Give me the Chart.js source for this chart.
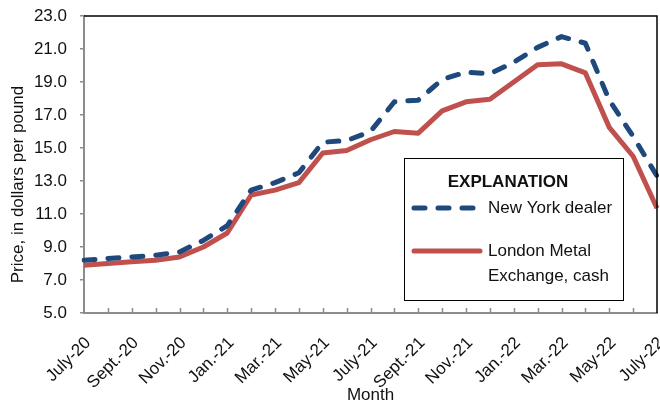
<!DOCTYPE html>
<html>
<head>
<meta charset="utf-8">
<script src="https://cdn.jsdelivr.net/npm/chart.js@4.4.0/dist/chart.umd.min.js"></script>
<style>
html, body { margin: 0; padding: 0; background: #fff; }
#wrap { width: 660px; height: 406px; }
</style>
</head>
<body>
<div id="wrap"><canvas id="myChart"></canvas></div>
<script>
let months = ['July-20', 'Aug.-20', 'Sept.-20', 'Oct.-20', 'Nov.-20', 'Dec.-20',
    'Jan.-21', 'Feb.-21', 'Mar.-21', 'Apr.-21', 'May-21', 'June-21',
    'July-21', 'Aug.-21', 'Sept.-21', 'Oct.-21', 'Nov.-21', 'Dec.-21',
    'Jan.-22', 'Feb.-22', 'Mar.-22', 'Apr.-22', 'May-22', 'June-22', 'July-22'];

// prices in dollars per pound
let newYork = [8.2, 8.3, 8.4, 8.5, 8.7, 9.4, 10.3, 12.45, 12.9, 13.5, 15.35, 15.45,
    16.0, 17.8, 17.9, 19.15, 19.6, 19.5, 20.2, 21.1, 21.75, 21.35, 17.9, 15.7, 13.3];
let london = [7.9, 8.0, 8.1, 8.2, 8.4, 9.0, 9.85, 12.15, 12.45, 12.9, 14.7, 14.85,
    15.5, 16.0, 15.9, 17.25, 17.8, 17.95, 19.0, 20.05, 20.1, 19.55, 16.25, 14.5, 11.35];

let yMin = 5, yMax = 23, yStep = 2;

let blue = '#1F497D';
let red = '#C0504D';
let axisGray = '#8c8c8c';
let font = "'Liberation Sans', Arial, sans-serif";

Chart.defaults.font.family = font;
Chart.defaults.color = '#111';

// black frame on top/right, inward month ticks, y title and the legend box
let extras = {
    id: 'extras',
    afterDraw(chart) {
        let ctx = chart.ctx;
        let a = chart.chartArea;
        let x = chart.scales.x;

        ctx.save();
        ctx.strokeStyle = '#000';
        ctx.lineWidth = 1.5;
        ctx.beginPath();
        ctx.moveTo(a.left, a.top);
        ctx.lineTo(a.right, a.top);
        ctx.lineTo(a.right, a.bottom);
        ctx.stroke();

        ctx.strokeStyle = axisGray;
        ctx.lineWidth = 1.5;
        ctx.beginPath();
        for (let i = 1; i < months.length - 1; i++) {
            let px = Math.round(x.getPixelForValue(i)) + 0.5;
            ctx.moveTo(px, a.bottom);
            ctx.lineTo(px, a.bottom - 5);
        }
        ctx.stroke();

        // y axis title
        ctx.fillStyle = '#111';
        ctx.font = '17px ' + font;
        ctx.textAlign = 'center';
        ctx.textBaseline = 'middle';
        ctx.translate(18, (a.top + a.bottom) / 2 + 20);
        ctx.rotate(-Math.PI / 2);
        ctx.fillText('Price, in dollars per pound', 0, 0);
        ctx.restore();

        // legend
        let bx = a.right - 253, by = a.bottom - 155, bw = 219, bh = 142;
        ctx.save();
        ctx.fillStyle = '#fff';
        ctx.fillRect(bx, by, bw, bh);
        ctx.strokeStyle = '#000';
        ctx.lineWidth = 1;
        ctx.strokeRect(bx + 0.5, by + 0.5, bw, bh);

        ctx.fillStyle = '#111';
        ctx.textBaseline = 'middle';
        ctx.textAlign = 'center';
        ctx.font = 'bold 17px ' + font;
        ctx.fillText('EXPLANATION', bx + 104, by + 24);

        let ds = chart.data.datasets;
        ctx.lineWidth = 5;
        ctx.lineCap = 'round';
        ctx.strokeStyle = ds[0].borderColor;
        ctx.setLineDash(ds[0].borderDash);
        ctx.beginPath();
        ctx.moveTo(bx + 10, by + 50);
        ctx.lineTo(bx + 72, by + 50);
        ctx.stroke();

        ctx.setLineDash([]);
        ctx.strokeStyle = ds[1].borderColor;
        ctx.beginPath();
        ctx.moveTo(bx + 10, by + 93);
        ctx.lineTo(bx + 76, by + 93);
        ctx.stroke();

        ctx.textAlign = 'left';
        ctx.font = '17px ' + font;
        ctx.fillText(ds[0].label, bx + 84, by + 50);
        ctx.fillText('London Metal', bx + 84, by + 93);
        ctx.fillText('Exchange, cash', bx + 84, by + 118);
        ctx.restore();
    }
};

let context = document.getElementById('myChart');
let myChart = new Chart(context, {
    type: 'line',
    data: {
        labels: months,
        datasets: [{
            label: 'New York dealer',
            data: newYork,
            borderColor: blue,
            borderWidth: 5,
            borderDash: [11, 13],
            borderCapStyle: 'round',
            borderJoinStyle: 'round',
            pointRadius: 0,
            tension: 0
        }, {
            label: 'London Metal Exchange, cash',
            data: london,
            borderColor: red,
            borderWidth: 5,
            borderJoinStyle: 'round',
            pointRadius: 0,
            tension: 0
        }]
    },
    options: {
        responsive: true,
        maintainAspectRatio: false,
        animation: false,
        layout: { padding: { top: 16, right: 3, left: 0, bottom: 0 } },
        plugins: {
            legend: { display: false },
            tooltip: { enabled: false }
        },
        scales: {
            x: {
                grid: { drawOnChartArea: false, drawTicks: false },
                border: { color: axisGray, width: 2 },
                ticks: {
                    autoSkip: false,
                    minRotation: 45,
                    maxRotation: 45,
                    padding: 20,
                    labelOffset: 4,
                    font: { size: 17 },
                    callback: (v, i) => (i % 2 === 0 ? months[i] : '')
                },
                title: {
                    display: true,
                    text: 'Month',
                    font: { size: 17 },
                    padding: { top: 0, bottom: 0 }
                },
                afterFit: s => { s.height = 93; s.paddingLeft = 0; s.paddingRight = 0; }
            },
            y: {
                min: yMin,
                max: yMax,
                grid: { drawOnChartArea: false, tickLength: 4, color: axisGray, lineWidth: 1.5 },
                border: { color: axisGray, width: 2 },
                ticks: {
                    stepSize: yStep,
                    padding: 13,
                    font: { size: 17 },
                    callback: v => v.toFixed(1)
                },
                afterFit: s => { s.width = 84; s.paddingTop = 0; s.paddingBottom = 0; }
            }
        }
    },
    plugins: [extras]
});
</script>
</body>
</html>
